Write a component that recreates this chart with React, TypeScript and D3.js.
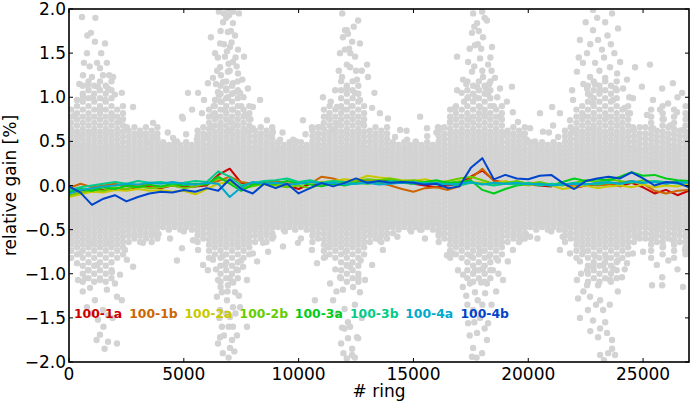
import * as d3 from "d3";
import React from "react";

// ---- data ----

const ringDomain: [number, number] = [0, 27000];
const gainDomain: [number, number] = [-2, 2];
const ringTicks = [0, 5000, 10000, 15000, 20000, 25000];
const gainTicks = [-2, -1.5, -1, -0.5, 0, 0.5, 1, 1.5, 2];

// dense core of the grey cloud: one column per ring bin, each using a y-profile
const coreProfiles = [
  // narrow (troughs)
  [-0.47, -0.42, -0.37, -0.32, -0.27, -0.22, -0.17, -0.12, -0.07, -0.02, 0.03, 0.08, 0.13, 0.18, 0.23, 0.28, 0.33, 0.38, 0.43, 0.49],
  [-0.5, -0.44, -0.39, -0.345, -0.295, -0.245, -0.195, -0.145, -0.095, -0.045, 0.005, 0.055, 0.105, 0.155, 0.205, 0.255, 0.305, 0.355, 0.405, 0.46],
  // medium
  [-0.64, -0.57, -0.51, -0.46, -0.41, -0.36, -0.31, -0.26, -0.21, -0.16, -0.11, -0.06, -0.01, 0.04, 0.09, 0.14, 0.19, 0.24, 0.29, 0.34, 0.39, 0.44, 0.5, 0.56, 0.62],
  [-0.6, -0.54, -0.48, -0.435, -0.385, -0.335, -0.285, -0.235, -0.185, -0.135, -0.085, -0.035, 0.015, 0.065, 0.115, 0.165, 0.215, 0.265, 0.315, 0.365, 0.415, 0.47, 0.53, 0.59, 0.66],
  // wide (lobe flanks)
  [-0.82, -0.74, -0.67, -0.61, -0.55, -0.49, -0.44, -0.39, -0.34, -0.29, -0.24, -0.19, -0.14, -0.09, -0.04, 0.01, 0.06, 0.11, 0.16, 0.21, 0.26, 0.31, 0.36, 0.41, 0.46, 0.52, 0.58, 0.64, 0.71, 0.78, 0.86],
  [-0.78, -0.7, -0.64, -0.58, -0.52, -0.465, -0.415, -0.365, -0.315, -0.265, -0.215, -0.165, -0.115, -0.065, -0.015, 0.035, 0.085, 0.135, 0.185, 0.235, 0.285, 0.335, 0.385, 0.435, 0.49, 0.55, 0.61, 0.68, 0.75, 0.82, 0.9],
  // lobe centres
  [-1.09, -1.0, -0.91, -0.82, -0.74, -0.67, -0.61, -0.55, -0.49, -0.44, -0.39, -0.34, -0.29, -0.24, -0.19, -0.14, -0.09, -0.04, 0.01, 0.06, 0.11, 0.16, 0.21, 0.26, 0.31, 0.36, 0.41, 0.46, 0.52, 0.58, 0.64, 0.71, 0.78, 0.86, 0.95, 1.04, 1.13],
  [-1.05, -0.96, -0.87, -0.78, -0.7, -0.64, -0.58, -0.52, -0.465, -0.415, -0.365, -0.315, -0.265, -0.215, -0.165, -0.115, -0.065, -0.015, 0.035, 0.085, 0.135, 0.185, 0.235, 0.285, 0.335, 0.385, 0.435, 0.49, 0.55, 0.61, 0.68, 0.75, 0.82, 0.9, 0.99, 1.08, 1.18],
];
const coreRings = [
  100, 350, 600, 850, 1100, 1350, 1600, 1850, 2100, 2350,
  2600, 2850, 3100, 3350, 3600, 3850,
  4100, 4350, 4600, 4850, 5100, 5350,
  5600, 5850,
  6100, 6350, 6600, 6850, 7100, 7350, 7600, 7850,
  8100, 8350, 8600, 8850,
  9100, 9350, 9600, 9850, 10100, 10350,
  10600, 10850,
  11100, 11350, 11600, 11850, 12100, 12350, 12600, 12850,
  13100, 13350, 13600, 13850,
  14100, 14350, 14600, 14850, 15100, 15350, 15600, 15850,
  16100, 16350,
  16600, 16850, 17100, 17350, 17600, 17850, 18100, 18350, 18600, 18850,
  19100, 19350, 19600, 19850,
  20100, 20350, 20600, 20850, 21100, 21350,
  21600, 21850,
  22100, 22350, 22600, 22850, 23100, 23350, 23600, 23850, 24100, 24350,
  24600, 24850,
  25100, 25350, 25600, 25850, 26100, 26350, 26600, 26850,
];
const coreProfileOf = [
  4, 5, 6, 7, 6, 7, 6, 7, 4, 5,
  2, 3, 2, 3, 2, 3,
  0, 1, 0, 1, 0, 1,
  2, 3,
  4, 5, 6, 7, 6, 7, 4, 5,
  2, 3, 2, 3,
  0, 1, 0, 1, 0, 1,
  2, 3,
  4, 5, 4, 7, 6, 7, 6, 5,
  2, 3, 2, 3,
  0, 1, 0, 1, 0, 1, 0, 1,
  2, 3,
  4, 5, 4, 7, 6, 7, 6, 7, 4, 5,
  2, 3, 2, 3,
  0, 1, 0, 1, 0, 1,
  2, 3,
  4, 5, 6, 7, 6, 7, 6, 7, 4, 5,
  2, 3,
  3, 4, 2, 5, 3, 4, 2, 5,
];

// scattered points of the upper and lower lobes [ring, gain %]
const upperLobes: [number, number][] = [
  [566, 1.91], [958, 1.73], [1130, 1.63], [1570, 1.61], [784, 1.5], [1220, 1.39], [650, 1.39], [1350, 1.33], [1650, 1.39],
  [610, 1.25], [1000, 1.23], [1480, 1.25], [1920, 1.23], [830, 1.14], [1260, 1.12], [1700, 1.1], [350, 0.97], [610, 1.0],
  [1045, 1.0], [1570, 0.97], [2000, 1.03], [2300, 1.05], [260, 0.8], [1350, 0.86], [1870, 0.8], [2790, 0.89], [2220, 0.74],
  [2520, 0.66], [3090, 0.57], [3390, 0.49], [3660, 0.71], [4090, 0.44], [480, 0.55], [350, 0.44], [915, 0.59], [1790, 0.61],
  [1150, 1.9], [800, 1.7], [1400, 1.5], [900, 1.35], [1750, 1.25], [450, 1.15],
  [4920, 0.78], [5180, 1.05], [5620, 1.05], [5360, 0.86], [4530, 0.54],
  [6530, 1.97], [6970, 1.93], [7400, 1.95], [6710, 1.85], [7140, 1.84], [6920, 1.74], [7230, 1.7], [6180, 1.68], [6580, 1.61],
  [7010, 1.57], [7360, 1.54], [6360, 1.5], [6790, 1.46], [7620, 1.46], [7140, 1.4], [6580, 1.34], [6920, 1.29], [7360, 1.27],
  [6270, 1.22], [6050, 1.16], [6710, 1.17], [7140, 1.16], [7790, 1.1], [6490, 1.06], [7450, 1.05], [5880, 0.97], [6360, 0.97],
  [6920, 1.0], [8320, 0.97], [8010, 0.89], [5790, 0.82], [6270, 0.8], [7140, 0.86], [7660, 0.8], [4960, 0.76], [8620, 0.74],
  [6580, 0.66], [8010, 0.65], [8880, 0.61], [9190, 0.52], [9760, 0.52], [10190, 0.74], [10580, 0.66], [6010, 0.55], [5570, 0.52],
  [6800, 0.85], [7050, 0.72], [6450, 0.78], [7300, 0.68], [6650, 0.95], [7500, 0.9], [6900, 0.62], [6200, 0.66], [7700, 0.62],
  [7900, 0.75], [6850, 1.1], [7000, 1.3], [6750, 1.6], [7050, 1.75], [6850, 1.9], [7250, 1.45], [6450, 1.3], [6950, 2.0],
  [6600, 1.75], [6750, 1.95], [7150, 1.97], [6480, 1.45], [7080, 1.62], [6620, 1.25], [7300, 1.35], [6880, 1.52], [6400, 1.15],
  [7550, 1.2], [6950, 1.38], [7180, 1.05], [6300, 0.9], [7600, 1.0], [6530, 1.02],
  [12020, 1.76], [12150, 1.72], [11800, 1.5], [12100, 1.37], [11890, 1.23], [11590, 1.08], [11060, 1.0], [12100, 1.12],
  [11670, 0.89], [11280, 0.78], [11930, 0.86], [10930, 0.66], [11450, 0.63], [12590, 1.87], [12100, 1.76], [11930, 1.68],
  [12330, 1.63], [12670, 1.61], [12020, 1.54], [12460, 1.46], [12980, 1.37], [12240, 1.34], [13020, 1.23], [12540, 1.2],
  [12100, 1.1], [12670, 0.97], [13200, 0.88], [13540, 0.82], [13890, 0.76], [14420, 0.63], [15290, 0.78], [14720, 0.52],
  [15590, 0.65], [16160, 0.65], [12300, 0.9], [12800, 0.7], [11700, 0.7], [12450, 1.05], [11400, 0.95], [13300, 1.05], [12250, 1.5],
  [11900, 1.95], [12400, 1.8], [12200, 1.55], [12750, 1.3], [11750, 1.3], [12500, 1.3],
  [17600, 1.95], [17990, 1.97], [17770, 1.84], [18200, 1.87], [17550, 1.73], [18030, 1.68], [17680, 1.59], [18420, 1.57],
  [16900, 1.46], [17380, 1.4], [17900, 1.44], [18250, 1.37], [17550, 1.29], [18030, 1.23], [17160, 1.2], [18550, 1.22],
  [16900, 1.08], [17770, 1.12], [18770, 1.1], [19290, 1.12], [17380, 1.0], [18250, 1.03], [16810, 0.88], [19070, 0.95],
  [19330, 0.83], [17900, 0.89], [16590, 0.72], [18770, 0.78], [19550, 0.72], [20080, 0.65], [16070, 0.66], [20510, 0.82],
  [17700, 1.0], [18100, 0.8], [17400, 0.75], [18500, 0.9], [17200, 0.95], [18000, 1.3], [17800, 1.6], [18300, 1.15],
  [17450, 1.55], [17650, 1.8], [18100, 1.9], [17850, 1.75], [18350, 1.45], [17300, 1.15], [18650, 1.0], [17100, 1.05],
  [18400, 1.3], [17650, 1.35], [17950, 1.55], [18150, 1.1],
  [22820, 1.99], [23350, 1.85], [23650, 1.95], [22820, 1.76], [22250, 1.65], [23040, 1.65], [23910, 1.78], [22560, 1.5],
  [23210, 1.54], [22380, 1.39], [22910, 1.39], [23560, 1.34], [24000, 1.4], [22120, 1.29], [22690, 1.23], [23350, 1.22],
  [23870, 1.27], [24300, 1.2], [24650, 1.34], [25300, 1.37], [21910, 1.08], [22560, 1.1], [23130, 1.08], [24130, 1.1],
  [24950, 1.12], [21950, 0.97], [22820, 0.93], [23690, 0.97], [24560, 0.99], [25430, 0.97], [25830, 1.1], [26300, 1.16],
  [26700, 1.05], [26090, 0.93], [21040, 0.89], [21380, 0.82], [21820, 0.74], [22380, 0.8], [23430, 0.78], [24430, 0.82],
  [25170, 0.8], [25740, 0.86], [26480, 0.83], [26920, 0.78], [20640, 0.61], [21080, 0.68], [21950, 0.63], [22820, 0.65],
  [23870, 0.68], [24560, 0.66], [25430, 0.65], [26180, 0.68], [26740, 0.63], [19940, 0.52], [19070, 0.59],
  [23300, 1.45], [22700, 1.02], [24200, 0.88], [25900, 0.75], [26500, 1.0], [23600, 1.6], [22400, 1.15],
  [22500, 1.85], [23000, 1.9], [23450, 1.7], [22700, 1.6], [23750, 1.5], [22200, 1.45], [23100, 1.3], [23800, 1.1],
  [24400, 1.0], [22900, 1.15],
];

const lowerLobes: [number, number][] = [
  [390, -1.07], [830, -0.96], [1220, -0.9], [915, -1.16], [1350, -1.07], [1650, -1.18], [1130, -1.3], [780, -1.38],
  [1480, -1.41], [1260, -1.52], [1700, -1.47], [1350, -1.69], [1700, -1.77], [2090, -1.79], [2090, -1.26], [1870, -0.98],
  [2220, -1.01], [2520, -0.84], [2790, -0.92], [2440, -0.73], [3220, -0.65], [480, -0.77], [350, -0.88], [700, -1.05],
  [2000, -1.11], [1045, -0.65], [1790, -0.65], [3660, -0.54], [4920, -0.71], [4700, -0.85],
  [1500, -1.6], [1900, -1.5], [1000, -1.45], [2300, -1.3], [600, -1.2], [1200, -1.75], [1550, -1.85],
  [5620, -0.73], [5840, -0.9], [6050, -0.96], [6270, -0.84], [6490, -1.07], [6660, -1.21], [6440, -1.26], [6920, -1.13],
  [6880, -1.3], [7230, -1.21], [7140, -1.38], [6580, -1.41], [7010, -1.49], [7450, -1.38], [6660, -1.6], [7140, -1.6],
  [7750, -1.6], [6580, -1.72], [7315, -1.7], [6490, -1.79], [7010, -1.84], [7750, -1.07], [7580, -0.92], [8190, -0.86],
  [8010, -0.77], [8670, -0.75], [8450, -0.65], [9320, -0.69], [9970, -0.65], [10800, -0.88], [10580, -0.73],
  [6800, -0.9], [7000, -1.05], [6700, -0.8], [7300, -0.95], [6950, -1.95], [7100, -1.75], [6850, -1.45],
  [6550, -1.5], [6750, -1.7], [7250, -1.45], [6950, -1.6], [7400, -1.25], [6600, -1.15], [7150, -1.1], [6400, -0.95],
  [7500, -0.85], [6700, -1.9], [7200, -1.88], [6900, -1.2],
  [11370, -1.11], [11800, -1.04], [11930, -1.18], [12100, -0.9], [11890, -1.61], [12150, -1.55], [11500, -1.3], [10710, -1.3],
  [11150, -0.81], [12100, -1.96], [12330, -1.85], [11850, -1.79], [12540, -1.72], [12240, -0.92], [12370, -1.15], [12670, -1.21],
  [12240, -1.6], [12150, -1.73], [12590, -1.73], [12330, -1.92], [12890, -1.07], [13200, -0.9], [13670, -0.73], [13540, -0.62],
  [14110, -0.54], [15290, -0.5], [16460, -0.79], [16720, -0.77],
  [11600, -0.95], [12000, -1.4], [12450, -1.35], [12700, -0.85], [11300, -0.7], [12050, -0.75],
  [12450, -1.95], [11950, -1.9], [12000, -1.62], [12750, -1.5], [11700, -1.45], [12600, -1.05], [11650, -1.2],
  [16940, -0.96], [17160, -1.01], [17460, -1.11], [17680, -0.96], [18030, -0.94], [18460, -0.96], [18900, -1.07], [18200, -1.11],
  [17680, -1.21], [18120, -1.22], [17600, -1.41], [17380, -1.56], [17900, -1.5], [18250, -1.56], [17770, -1.67], [18200, -1.75],
  [17600, -1.84], [17990, -1.9], [17550, -1.94], [19110, -0.86], [19330, -0.73], [19640, -0.62], [20080, -0.58], [18680, -0.85],
  [21380, -0.73], [21820, -0.77],
  [17500, -0.8], [17900, -0.75], [18300, -0.8], [17800, -1.3], [17300, -1.25], [18600, -1.2],
  [17450, -1.7], [17750, -1.95], [18100, -1.62], [17350, -1.35], [18400, -1.35], [17950, -1.1], [18700, -1.0], [17150, -1.15],
  [18000, -1.35], [17650, -1.55],
  [22250, -0.86], [22560, -0.96], [22120, -1.07], [22820, -0.92], [23260, -0.9], [23690, -0.94], [22560, -1.13], [23040, -1.13],
  [23560, -1.07], [22170, -1.28], [22690, -1.26], [23130, -1.3], [22600, -1.41], [23260, -1.41], [22250, -1.5], [22820, -1.53],
  [23130, -1.62], [23430, -1.67], [23650, -1.75], [23040, -1.72], [23130, -1.92], [23480, -1.9], [23780, -1.92], [24080, -1.04],
  [24300, -0.88], [24560, -0.77], [25000, -0.75], [25390, -1.13], [25830, -1.04], [25830, -1.13], [26740, -1.15], [25870, -0.69],
  [26300, -0.62], [26830, -0.73], [24700, -0.58], [25430, -0.58],
  [22900, -0.8], [23400, -0.82], [23900, -0.85], [22400, -0.75], [26100, -0.85], [26500, -0.95], [25600, -0.9],
  [22400, -1.2], [22950, -1.35], [23350, -1.55], [22700, -1.65], [23550, -1.35], [23900, -1.2], [22300, -1.0], [23650, -1.85],
  [23300, -1.98], [24200, -0.95],
];

const troughFringe: [number, number][] = [
  [3800, 0.55], [4300, 0.6], [4700, 0.5], [5100, 0.58], [8800, 0.56], [9300, 0.6], [9900, 0.5], [10300, 0.58],
  [14200, 0.55], [14700, 0.62], [15100, 0.5], [15600, 0.56], [16000, 0.6], [19800, 0.58], [20300, 0.5], [20900, 0.6], [21300, 0.55],
  [3900, -0.55], [4400, -0.6], [5000, -0.52], [5400, -0.62], [8900, -0.58], [9400, -0.52], [10100, -0.6],
  [14300, -0.58], [14900, -0.52], [15500, -0.6], [16100, -0.55], [19900, -0.55], [20400, -0.6], [21000, -0.52], [21500, -0.58],
];

// running gain per detector, sampled every 500 rings
const lineRings = [
  0, 500, 1000, 1500, 2000, 2500, 3000, 3500, 4000, 4500, 5000, 5500, 6000, 6500, 7000, 7500, 8000, 8500, 9000,
  9500, 10000, 10500, 11000, 11500, 12000, 12500, 13000, 13500, 14000, 14500, 15000, 15500, 16000, 16500, 17000,
  17500, 18000, 18500, 19000, 19500, 20000, 20500, 21000, 21500, 22000, 22500, 23000, 23500, 24000, 24500, 25000,
  25500, 26000, 26500, 27000,
];
const names = ["100-1a", "100-1b", "100-2a", "100-2b", "100-3a", "100-3b", "100-4a", "100-4b"];
const colors = ["#cc0000", "#cc6600", "#c8c800", "#66cc00", "#00cc1a", "#00cc88", "#00aacc", "#0044cc"];

const gain1a = [
  -0.08, -0.06, -0.04, -0.05, -0.03, -0.04, -0.02, -0.01, -0.03, 0.0, -0.02, -0.01, 0.0, 0.12, 0.19, 0.03, 0.0, 0.02, 0.01,
  0.0, -0.04, 0.02, 0.01, 0.03, 0.02, 0.05, 0.04, 0.05, 0.06, 0.04, 0.02, 0.0, -0.02, 0.0, 0.02, 0.1, 0.17, 0.06, 0.02,
  0.03, 0.01, 0.0, -0.01, 0.02, -0.03, 0.0, 0.01, 0.02, -0.01, 0.03, -0.02, -0.09, -0.05, -0.11, -0.06,
];
const gain1b = [
  -0.03, 0.02, -0.02, 0.0, 0.02, -0.01, 0.01, 0.0, -0.02, 0.0, 0.03, 0.01, 0.02, 0.05, 0.1, 0.04, 0.02, 0.03, 0.05,
  0.02, 0.04, 0.02, 0.1, 0.08, 0.04, 0.06, 0.05, 0.03, 0.0, -0.04, -0.07, -0.03, -0.02, -0.05, -0.01, 0.08, 0.19, 0.05, 0.04,
  0.01, 0.03, 0.02, 0.0, 0.01, -0.01, 0.02, 0.0, 0.01, 0.03, 0.05, 0.02, -0.06, -0.09, -0.06, -0.05,
];
const gain2a = [
  -0.13, -0.1, -0.07, -0.08, -0.05, -0.06, -0.04, -0.06, -0.05, -0.07, -0.06, -0.1, -0.04, 0.02, 0.04, -0.02, 0.0, 0.01, 0.02,
  0.0, 0.03, 0.02, 0.04, 0.05, 0.07, 0.06, 0.11, 0.09, 0.08, 0.06, 0.05, 0.07, 0.04, 0.02, 0.05, 0.04, 0.03, 0.02, 0.05,
  0.02, 0.0, 0.02, 0.0, -0.04, -0.02, 0.0, -0.03, -0.01, 0.0, -0.02, 0.01, -0.02, 0.0, -0.01, 0.02,
];
const gain2b = [
  -0.11, -0.08, -0.05, -0.06, -0.02, -0.04, -0.01, -0.03, -0.02, 0.0, -0.03, -0.01, 0.02, 0.08, 0.05, -0.03, -0.01, 0.02, 0.0,
  -0.02, 0.0, -0.03, 0.02, 0.04, 0.03, 0.05, 0.07, 0.06, 0.08, 0.05, 0.06, 0.04, 0.03, 0.05, 0.08, 0.1, 0.06, 0.02, 0.03,
  0.05, 0.02, 0.04, 0.01, 0.0, 0.03, 0.06, 0.04, 0.07, 0.05, 0.03, 0.06, 0.04, 0.02, 0.05, 0.03,
];
const gain3a = [
  -0.07, -0.04, -0.06, -0.02, -0.04, 0.0, -0.02, 0.01, -0.01, 0.02, 0.0, 0.02, 0.01, 0.1, 0.02, -0.06, 0.01, 0.03, 0.02,
  0.05, 0.03, 0.01, -0.01, 0.02, 0.0, 0.03, 0.02, 0.04, 0.05, 0.03, 0.02, 0.04, 0.06, 0.03, 0.04, 0.06, -0.05, -0.09, -0.04,
  0.0, 0.02, 0.01, 0.0, 0.04, 0.08, 0.05, 0.07, 0.06, 0.1, 0.15, 0.11, 0.12, 0.08, 0.06, 0.05,
];
const gain3b = [
  -0.05, -0.02, 0.0, 0.02, 0.04, 0.02, 0.05, 0.03, 0.04, 0.02, 0.03, 0.05, 0.04, 0.16, 0.1, 0.0, 0.03, 0.05, 0.06,
  0.08, 0.04, 0.06, 0.03, 0.05, 0.04, 0.02, 0.04, 0.03, 0.05, 0.04, 0.02, 0.03, 0.01, 0.02, 0.0, 0.03, 0.02, 0.0, 0.02,
  0.01, 0.03, 0.0, 0.02, 0.01, 0.03, 0.02, 0.01, 0.03, 0.02, 0.04, 0.03, 0.05, 0.04, 0.02, 0.04,
];
const gain4a = [
  -0.09, -0.05, -0.03, -0.01, 0.0, 0.02, 0.01, 0.03, 0.02, 0.04, 0.02, 0.01, 0.03, 0.02, -0.13, -0.02, 0.04, 0.02, 0.03,
  0.01, 0.02, 0.04, 0.02, 0.03, 0.01, 0.02, 0.03, 0.01, 0.02, 0.03, 0.04, 0.02, 0.03, 0.01, 0.02, 0.04, 0.01, 0.03, 0.02,
  0.03, 0.01, 0.02, 0.0, 0.01, 0.02, 0.01, 0.03, 0.04, 0.02, 0.05, 0.03, 0.04, 0.02, 0.04, 0.03,
];
const gain4b = [
  -0.01, -0.08, -0.22, -0.15, -0.11, -0.18, -0.13, -0.09, -0.07, -0.08, -0.05, -0.07, -0.03, -0.06, 0.07, -0.04, -0.09, 0.02, -0.03,
  0.02, -0.09, -0.03, 0.03, -0.01, 0.03, 0.08, 0.03, 0.05, 0.03, 0.04, 0.03, 0.01, 0.02, -0.03, -0.01, 0.2, 0.31, 0.07, 0.12,
  0.08, 0.07, 0.11, 0.12, 0.03, -0.04, 0.05, 0.08, 0.1, 0.08, 0.15, 0.08, 0.0, 0.04, 0.03, -0.02,
];
const gains = [gain1a, gain1b, gain2a, gain2b, gain3a, gain3b, gain4a, gain4b];

// ---- chart ----

const width = 693;
const height = 404;
const marginTop = 9;
const marginRight = 4;
const marginBottom = 42;
const marginLeft = 69;
const font = "DejaVu Sans, Verdana, sans-serif";

export default function App() {
  const x = d3.scaleLinear(ringDomain, [marginLeft, width - marginRight]);
  const y = d3.scaleLinear(gainDomain, [height - marginBottom, marginTop]);
  const fmt = d3.format(".1f");

  const cloud: [number, number][] = [];
  coreRings.forEach((r, i) => coreProfiles[coreProfileOf[i]].forEach((g) => cloud.push([r, g])));
  cloud.push(...upperLobes, ...lowerLobes, ...troughFringe);

  const line = d3
    .line<number>()
    .x((_, i) => x(lineRings[i]))
    .y((d) => y(d));

  const [x0, x1] = x.range();
  const [y0, y1] = y.range();

  return (
    <div style={{ position: "fixed", left: 0, top: 0 }}>
      <svg width={width} height={height} style={{ display: "block", background: "#fff" }}>
        <defs>
          <clipPath id="plot">
            <rect x={x0} y={y1} width={x1 - x0} height={y0 - y1} />
          </clipPath>
        </defs>
        <g clipPath="url(#plot)">
          <g fill="#d3d3d3">
            {cloud.map((d, i) => (
              <circle key={i} cx={x(d[0])} cy={y(d[1])} r={3.2} />
            ))}
          </g>
          {gains.map((g, k) => (
            <path
              key={k}
              d={line(g) ?? ""}
              fill="none"
              stroke={colors[k]}
              strokeWidth={2}
              strokeLinejoin="round"
            />
          ))}
        </g>

        {/* inward ticks on all four sides */}
        <g stroke="#000" strokeWidth={1}>
          {ringTicks.map((t) => (
            <g key={t}>
              <line x1={x(t)} x2={x(t)} y1={y0} y2={y0 - 4} />
              <line x1={x(t)} x2={x(t)} y1={y1} y2={y1 + 4} />
            </g>
          ))}
          {gainTicks.map((t) => (
            <g key={t}>
              <line x1={x0} x2={x0 + 4} y1={y(t)} y2={y(t)} />
              <line x1={x1} x2={x1 - 4} y1={y(t)} y2={y(t)} />
            </g>
          ))}
        </g>
        <rect x={x0} y={y1} width={x1 - x0} height={y0 - y1} fill="none" stroke="#000" strokeWidth={1.6} />

        <g fontFamily={font} fontSize={17} fill="#000">
          {ringTicks.map((t) => (
            <text key={t} x={x(t)} y={y0 + 18} textAnchor="middle">
              {t}
            </text>
          ))}
          {gainTicks.map((t) => (
            <text key={t} x={x0 - 3} y={y(t) + 6} textAnchor="end">
              {fmt(t)}
            </text>
          ))}
          <text x={(x0 + x1) / 2} y={height - 7} textAnchor="middle">
            # ring
          </text>
          <text transform={`translate(16,${(y0 + y1) / 2}) rotate(-90)`} textAnchor="middle">
            relative gain [%]
          </text>
        </g>

        <g fontFamily={font} fontSize={12.4} fontWeight="bold">
          {names.map((n, k) => (
            <text key={n} x={x0 + 5 + k * 55.2} y={318} fill={colors[k]}>
              {n}
            </text>
          ))}
        </g>
      </svg>
    </div>
  );
}
